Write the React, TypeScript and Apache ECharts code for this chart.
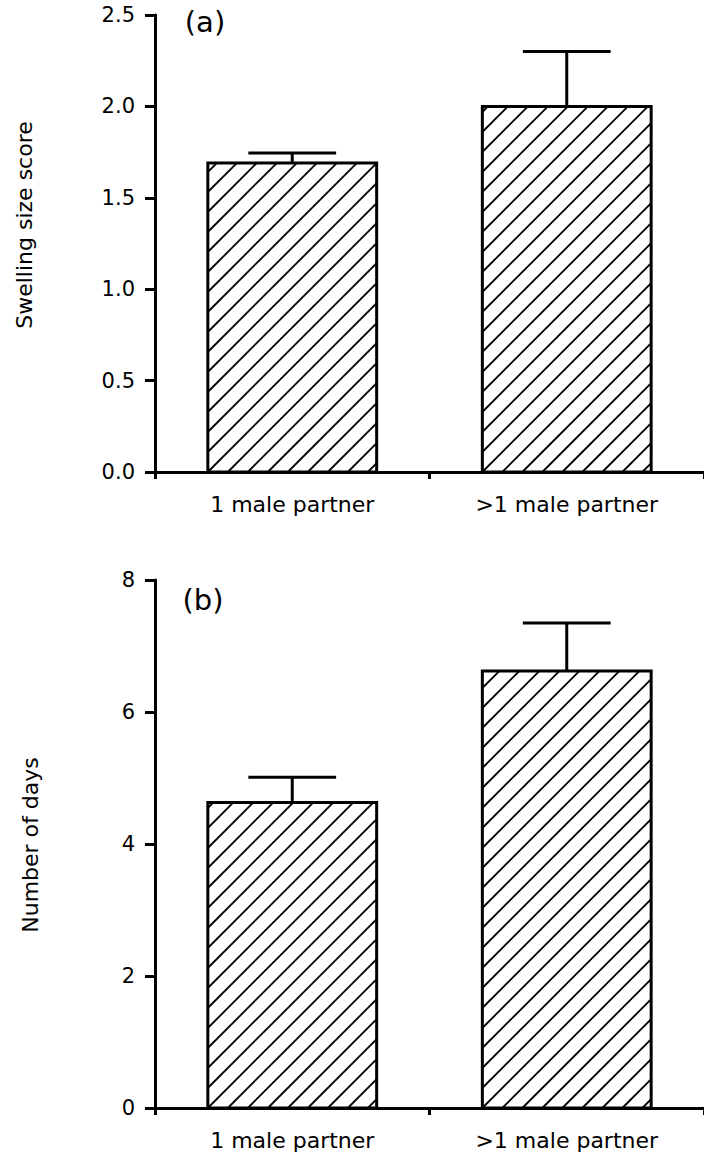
import React, { useEffect, useRef } from "react";
import * as echarts from "echarts";

const categories = ["1 male partner", ">1 male partner"];
const swellingMeans = [1.69, 2.0];
const swellingUpper = [1.745, 2.3];
const daysMeans = [4.63, 6.62];
const daysUpper = [5.01, 7.35];
const swellingAxis = { min: 0, max: 2.5, interval: 0.5 };
const daysAxis = { min: 0, max: 8, interval: 2 };
const panelLabels = ["(a)", "(b)"];
const yTitles = ["Swelling size score", "Number of days"];

const FONT = "DejaVu Sans";

function renderBar(params: any, api: any) {
  const ci = api.value(0);
  const v = api.value(1);
  const up = api.value(2);
  const base = api.coord([ci, 0]);
  const top = api.coord([ci, v]);
  const upP = api.coord([ci, up]);
  const bw = api.size([1, 0])[0] * 0.615;
  const cx = base[0];
  const x0 = cx - bw / 2;
  const x1 = cx + bw / 2;
  const yT = top[1];
  const yB = base[1];
  const step = 20;
  const c0 = x0 + yB;
  const cMin = x0 + yT;
  const cMax = x1 + yB;
  const children: any[] = [];
  const kStart = Math.ceil((cMin - c0) / step);
  const kEnd = Math.floor((cMax - c0) / step);
  for (let k = kStart; k <= kEnd; k++) {
    const c = c0 + k * step;
    const xa = Math.max(x0, c - yB);
    const xb = Math.min(x1, c - yT);
    if (xb - xa < 0.5) continue;
    children.push({
      type: "line",
      shape: { x1: xa, y1: c - xa, x2: xb, y2: c - xb },
      style: { stroke: "#000", lineWidth: 1.8 },
    });
  }
  children.push({
    type: "rect",
    shape: { x: x0, y: yT, width: bw, height: yB - yT },
    style: { fill: "none", stroke: "#000", lineWidth: 3 },
  });
  const cw = bw * 0.52;
  children.push({
    type: "line",
    shape: { x1: cx, y1: yT, x2: cx, y2: upP[1] },
    style: { stroke: "#000", lineWidth: 3 },
  });
  children.push({
    type: "line",
    shape: { x1: cx - cw / 2, y1: upP[1], x2: cx + cw / 2, y2: upP[1] },
    style: { stroke: "#000", lineWidth: 3 },
  });
  return { type: "group", children };
}

export default function App() {
  const ref = useRef<HTMLDivElement>(null);
  useEffect(() => {
    if (!ref.current) return;
    const chart = echarts.init(ref.current, null, { renderer: "svg" });
    const axisLine = { show: true, onZero: false, lineStyle: { color: "#000", width: 3 } };
    const xAxisCommon = (gridIndex: number) => ({
      type: "category" as const,
      gridIndex,
      data: categories,
      boundaryGap: true,
      axisLine,
      axisTick: { show: true, length: 7, lineStyle: { color: "#000", width: 3 } },
      axisLabel: { color: "#000", fontSize: 22, fontFamily: FONT, margin: 21 },
      splitLine: { show: false },
    });
    const yAxisCommon = (gridIndex: number, ax: any, fmt: (v: number) => string) => ({
      type: "value" as const,
      gridIndex,
      min: ax.min,
      max: ax.max,
      interval: ax.interval,
      axisLine,
      axisTick: { show: true, length: 10, lineStyle: { color: "#000", width: 3 } },
      axisLabel: { color: "#000", fontSize: 21, fontFamily: FONT, margin: 20, formatter: fmt },
      splitLine: { show: false },
    });
    const sData = categories.map((_, i) => [i, swellingMeans[i], swellingUpper[i]]);
    const dData = categories.map((_, i) => [i, daysMeans[i], daysUpper[i]]);
    const textStyle = (text: string, size: number) => ({
      text,
      fontSize: size,
      fontFamily: FONT,
      fill: "#000",
      textAlign: "center",
      textVerticalAlign: "middle",
    });
    chart.setOption({
      animation: false,
      backgroundColor: "#fff",
      grid: [
        { left: 155, top: 15, width: 549, height: 457 },
        { left: 155, top: 580, width: 549, height: 528 },
      ],
      xAxis: [xAxisCommon(0), xAxisCommon(1)],
      yAxis: [
        yAxisCommon(0, swellingAxis, (v: number) => v.toFixed(1)),
        yAxisCommon(1, daysAxis, (v: number) => String(v)),
      ],
      series: [
        {
          type: "custom",
          xAxisIndex: 0,
          yAxisIndex: 0,
          renderItem: renderBar,
          encode: { x: 0, y: [1, 2] },
          data: sData,
        },
        {
          type: "custom",
          xAxisIndex: 1,
          yAxisIndex: 1,
          renderItem: renderBar,
          encode: { x: 0, y: [1, 2] },
          data: dData,
        },
      ],
      graphic: [
        { type: "text", x: 205, y: 22, style: textStyle(panelLabels[0], 29) },
        { type: "text", x: 203, y: 600, style: textStyle(panelLabels[1], 29) },
        { type: "text", x: 24, y: 225, rotation: Math.PI / 2, style: textStyle(yTitles[0], 22) },
        { type: "text", x: 30, y: 845, rotation: Math.PI / 2, style: textStyle(yTitles[1], 22) },
      ],
    });
    return () => chart.dispose();
  }, []);
  return (
    <div
      ref={ref}
      style={{ position: "fixed", left: 0, top: 0, width: 704, height: 1158, background: "#fff" }}
    />
  );
}
